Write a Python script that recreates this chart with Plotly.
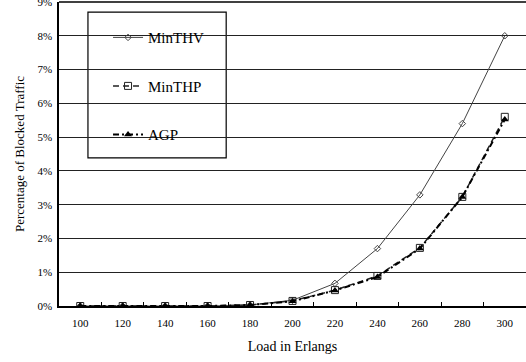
import plotly.graph_objects as go

load = [100, 120, 140, 160, 180, 200, 220, 240, 260, 280, 300]
minthv = [0.0, 0.0, 0.0, 0.0, 0.03, 0.17, 0.67, 1.70, 3.29, 5.40, 8.00]
minthp = [0.0, 0.0, 0.0, 0.0, 0.03, 0.15, 0.47, 0.89, 1.72, 3.23, 5.60]
agp = [0.0, 0.0, 0.0, 0.0, 0.03, 0.14, 0.46, 0.86, 1.70, 3.23, 5.52]
ytick_vals = [0, 1, 2, 3, 4, 5, 6, 7, 8, 9]
xtick_vals = load
minor_ticks = [110, 130, 150, 170, 190, 210, 230, 250, 270, 290]

FONT = "Liberation Serif, Times New Roman, serif"

fig = go.Figure()
fig.add_trace(go.Scatter(
    x=load, y=minthv, name="MinTHV", mode="lines+markers", legendgroup="a",
    line=dict(color="#444444", width=1),
    marker=dict(symbol="diamond-open", size=5, color="#444444", line=dict(width=1))))
fig.add_trace(go.Scatter(
    x=load, y=minthp, name="MinTHP", mode="lines+markers", legendgroup="b",
    line=dict(color="#222222", width=1.5, dash="6px,4px"),
    marker=dict(symbol="square-open", size=7, color="#222222", line=dict(width=1))))
fig.add_trace(go.Scatter(
    x=load, y=agp, name="AGP", mode="lines+markers", legendgroup="c",
    line=dict(color="black", width=2, dash="6px,3px,2px,3px"),
    marker=dict(symbol="triangle-up", size=7, color="black")))

fig.add_shape(type="rect", xref="paper", yref="paper",
              x0=0.062, x1=0.358, y0=0.487, y1=0.967,
              line=dict(color="black", width=1.2), fillcolor="white", layer="between")
# top frame line at 9%
fig.add_shape(type="line", xref="paper", yref="paper", x0=0, x1=1, y0=1, y1=1,
              line=dict(color="black", width=1.5), layer="above")

fig.update_layout(
    width=526, height=362,
    margin=dict(l=59, r=0, t=2, b=56, autoexpand=False),
    paper_bgcolor="white", plot_bgcolor="white",
    font=dict(family=FONT, color="black", size=11),
    legend=dict(x=0.105, y=0.937, xanchor="left", yanchor="top",
                bgcolor="rgba(0,0,0,0)", font=dict(size=15, family=FONT),
                tracegroupgap=26, itemwidth=30),
    showlegend=True,
)
fig.update_xaxes(
    range=[90, 310], tickvals=xtick_vals, ticktext=[str(v) for v in xtick_vals],
    ticks="", showgrid=False, zeroline=False, automargin=False,
    showline=True, linecolor="black", linewidth=1.5,
    ticklabelstandoff=6,
    minor=dict(tickvals=minor_ticks, ticks="inside", ticklen=4, tickcolor="black", showgrid=False),
    title=dict(text="Load in Erlangs", font=dict(size=14, family=FONT), standoff=13),
    tickfont=dict(size=11, family=FONT),
)
fig.update_yaxes(
    range=[0, 9], tickvals=ytick_vals, ticktext=[f"{v}%" for v in ytick_vals],
    ticks="", showgrid=True, gridcolor="#222222", gridwidth=1, zeroline=False,
    showline=True, linecolor="black", linewidth=1.5, mirror=False, automargin=False,
    ticklabelstandoff=3, ticklabeloverflow="allow",
    title=dict(text="Percentage of Blocked Traffic", font=dict(size=13, family=FONT), standoff=10),
    tickfont=dict(size=11, family=FONT),
)

fig.write_html("out.html")
